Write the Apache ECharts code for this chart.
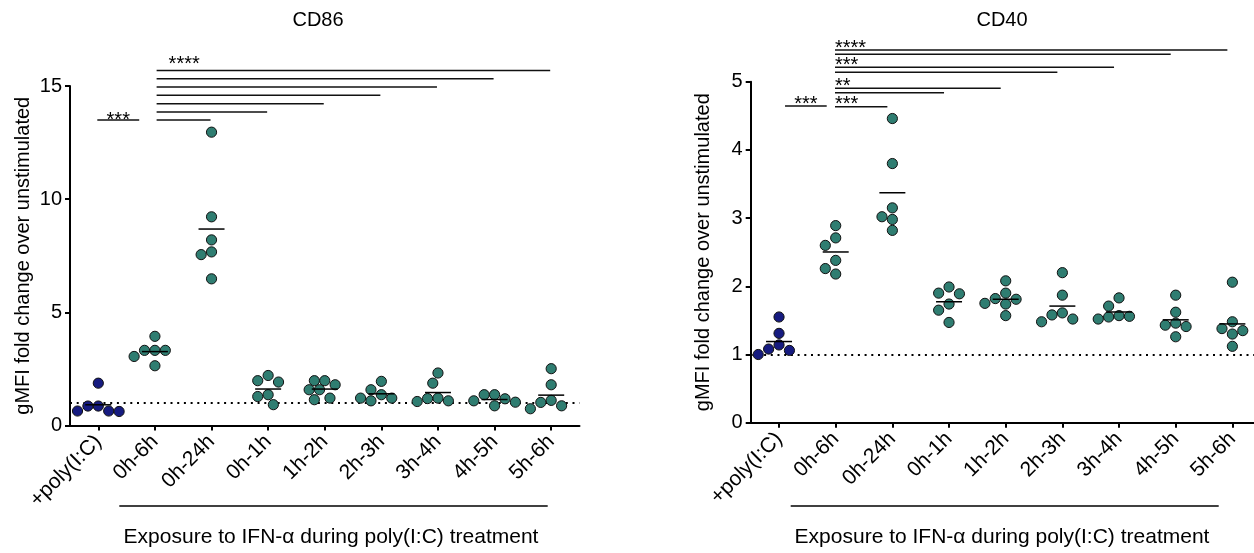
<!DOCTYPE html>
<html><head><meta charset="utf-8">
<script src="https://cdn.jsdelivr.net/npm/echarts@6/dist/echarts.min.js"></script>
<style>html,body{margin:0;padding:0;background:#fff}#c{width:1254px;height:553px}</style>
</head><body><div id="c"></div>
<script>
// ---------------- data ----------------
const categories = ['+poly(I:C)', '0h-6h', '0h-24h', '0h-1h', '1h-2h', '2h-3h', '3h-4h', '4h-5h', '5h-6h'];

const cd86PolyIC = [1.87, 0.86, 0.86, 0.64, 0.64, 0.62];
const cd86_0h6h  = [3.94, 3.32, 3.32, 3.32, 3.05, 2.64];
const cd86_0h24h = [12.96, 9.22, 8.20, 7.67, 7.55, 6.48];
const cd86_0h1h  = [2.21, 1.98, 1.92, 1.36, 1.28, 0.92];
const cd86_1h2h  = [1.98, 1.98, 1.80, 1.58, 1.58, 1.21, 1.14];
const cd86_2h3h  = [1.95, 1.58, 1.36, 1.21, 1.21, 1.09];
const cd86_3h4h  = [2.32, 1.87, 1.21, 1.19, 1.09, 1.06];
const cd86_4h5h  = [1.36, 1.36, 1.18, 1.09, 1.03, 0.87];
const cd86_5h6h  = [2.51, 1.80, 1.11, 1.02, 0.87, 0.74];

const cd40PolyIC = [1.55, 1.31, 1.14, 1.08, 1.06, 1.00];
const cd40_0h6h  = [2.89, 2.71, 2.60, 2.38, 2.26, 2.18];
const cd40_0h24h = [4.46, 3.80, 3.15, 3.02, 2.98, 2.82];
const cd40_0h1h  = [1.99, 1.90, 1.89, 1.74, 1.65, 1.47];
const cd40_1h2h  = [2.08, 1.90, 1.82, 1.81, 1.75, 1.74, 1.57];
const cd40_2h3h  = [2.20, 1.87, 1.61, 1.58, 1.52, 1.48];
const cd40_3h4h  = [1.83, 1.71, 1.57, 1.56, 1.55, 1.52];
const cd40_4h5h  = [1.87, 1.62, 1.46, 1.43, 1.41, 1.26];
const cd40_5h6h  = [2.06, 1.48, 1.38, 1.35, 1.30, 1.12];

const cd86Values = [cd86PolyIC, cd86_0h6h, cd86_0h24h, cd86_0h1h, cd86_1h2h, cd86_2h3h, cd86_3h4h, cd86_4h5h, cd86_5h6h];
const cd40Values = [cd40PolyIC, cd40_0h6h, cd40_0h24h, cd40_0h1h, cd40_1h2h, cd40_2h3h, cd40_3h4h, cd40_4h5h, cd40_5h6h];

const cd86YTicks = [0, 5, 10, 15];
const cd40YTicks = [0, 1, 2, 3, 4, 5];
const baselineValue = 1;

// significance comparisons: [fromCategory, toCategory, stars]
const cd86Comparisons = [[0, 1, '***'], [1, 2, ''], [1, 3, ''], [1, 4, ''], [1, 5, ''], [1, 6, ''], [1, 7, ''], [1, 8, '****']];
const cd40Comparisons = [[0, 1, '***'], [1, 2, '***'], [1, 3, ''], [1, 4, '**'], [1, 5, ''], [1, 6, '***'], [1, 7, ''], [1, 8, '****']];
const cd86BarLevels = [13.50, 13.50, 13.85, 14.22, 14.59, 14.96, 15.32, 15.69];
const cd40BarLevels = [4.644, 4.633, 4.839, 4.904, 5.138, 5.211, 5.402, 5.465];

const yAxisTitle = 'gMFI fold change over unstimulated';
const xAxisTitle = 'Exposure to IFN-\u03b1 during poly(I:C) treatment';

// ---------------- layout / style ----------------
const FONT = 'Arial, "Liberation Sans", Helvetica, sans-serif';
const TEAL = '#2f7d71', NAVY = '#161b80';
const SYM = 10.2;

const panels = [
  { title: 'CD86', values: cd86Values, comps: cd86Comparisons, levels: cd86BarLevels, ticks: cd86YTicks,
    grid: { left: 70, top: 86, width: 509.5, height: 339.5 }, titleX: 318, xTitleX: 331, underline: [119.3, 547.7],
    first: { x1: -1, x2: -15.7, dy: 4 }, bar: { x1: 1.7, x2: -1 }, starDx: 12, starDy: 9.6 },
  { title: 'CD40', values: cd40Values, comps: cd40Comparisons, levels: cd40BarLevels, ticks: cd40YTicks,
    grid: { left: 750.7, top: 81.7, width: 510, height: 341 }, titleX: 1002, xTitleX: 1002, underline: [790.7, 1218.7],
    first: { x1: 6, x2: -9, dy: 6 }, bar: { x1: -0.7, x2: -5 }, starDx: 0, starDy: 6 }
];

function swarmOffsets(vals, pxPerUnit, d) {
  const order = vals.map((_, i) => i).sort((a, b) => vals[b] - vals[a]);
  const placed = [];
  const off = new Array(vals.length).fill(0);
  const s = d / 2;
  for (const i of order) {
    const y = vals[i] * pxPerUnit;
    for (let k = 0; k < 60; k++) {
      const x = k === 0 ? 0 : (k % 2 ? -1 : 1) * Math.ceil(k / 2) * s;
      if (placed.every(p => (p[0] - x) ** 2 + (p[1] - y) ** 2 >= d * d - 0.01)) {
        off[i] = x; placed.push([x, y]); break;
      }
    }
  }
  return off;
}
const mean = a => a.reduce((s, v) => s + v, 0) / a.length;

const grids = [], xAxes = [], yAxes = [], series = [], graphics = [];

panels.forEach((p, pi) => {
  const yMax = p.ticks[p.ticks.length - 1];
  const yInt = p.ticks[1] - p.ticks[0];
  grids.push(Object.assign({ outerBoundsMode: 'none', containLabel: false }, p.grid));
  xAxes.push({
    type: 'category', gridIndex: pi, data: categories, boundaryGap: true,
    axisLine: { show: true, lineStyle: { color: '#000', width: 2 } },
    axisTick: { show: true, alignWithLabel: true, length: 5, lineStyle: { color: '#000', width: 2 } },
    axisLabel: { interval: 0, rotate: 45, margin: 13, color: '#000', fontFamily: FONT, fontSize: 21 },
    splitLine: { show: false }
  });
  yAxes.push({
    type: 'value', gridIndex: pi, min: p.ticks[0], max: yMax, interval: yInt,
    name: yAxisTitle, nameLocation: 'middle', nameGap: 37,
    nameTextStyle: { color: '#000', fontFamily: FONT, fontSize: 20 },
    axisLine: { show: true, lineStyle: { color: '#000', width: 2 } },
    axisTick: { show: true, length: 5, lineStyle: { color: '#000', width: 2 } },
    axisLabel: { margin: 8, color: '#000', fontFamily: FONT, fontSize: 20 },
    splitLine: { show: false }
  });

  const pxPerUnit = p.grid.height / yMax;
  const pts = [];
  p.values.forEach((arr, ci) => {
    const offs = swarmOffsets(arr, pxPerUnit, SYM + 0.2);
    arr.forEach((v, j) => pts.push({
      value: [ci, v], symbolOffset: [offs[j], 0],
      itemStyle: { color: ci === 0 ? NAVY : TEAL }
    }));
  });
  series.push({
    type: 'scatter', xAxisIndex: pi, yAxisIndex: pi, data: pts, symbolSize: SYM, z: 3,
    itemStyle: { borderColor: '#111', borderWidth: 1, opacity: 1 },
    markLine: {
      silent: true, symbol: ['none', 'none'], label: { show: false }, z: 2,
      lineStyle: { color: '#000', width: 2, type: [2, 4.7] },
      data: [{ yAxis: baselineValue }]
    }
  });
  // mean lines
  series.push({
    type: 'custom', xAxisIndex: pi, yAxisIndex: pi, z: 4, clip: false,
    data: p.values.map((arr, ci) => [ci, mean(arr)]),
    renderItem: (params, api) => {
      const c = api.coord([api.value(0), api.value(1)]);
      return { type: 'line', shape: { x1: c[0] - 13, y1: c[1], x2: c[0] + 13, y2: c[1] },
        style: { stroke: '#000', lineWidth: 1.5 } };
    }
  });
  // significance bars
  series.push({
    type: 'custom', xAxisIndex: pi, yAxisIndex: pi, z: 5, clip: false,
    data: p.comps.map((c, k) => [c[0], c[1], p.levels[k]]),
    renderItem: (params, api) => {
      const k = params.dataIndex;
      const a = api.coord([api.value(0), api.value(2)]);
      const b = api.coord([api.value(1), api.value(2)]);
      const st = k === 0 ? p.first : p.bar;
      const x1 = a[0] + st.x1, x2 = b[0] + st.x2, y = a[1];
      const children = [{ type: 'line', shape: { x1, y1: y, x2, y2: y }, style: { stroke: '#111', lineWidth: 1.5 } }];
      const stars = p.comps[k][2];
      if (stars) {
        const isFirst = k === 0;
        const dy = isFirst ? p.first.dy : p.starDy;
        children.push({ type: 'text', x: isFirst ? (x1 + x2) / 2 : x1 + p.starDx, y: y - dy + 4.2,
          style: { text: stars, fill: '#000', font: '20px ' + FONT, align: isFirst ? 'center' : 'left', verticalAlign: 'middle' } });
      }
      return { type: 'group', children };
    }
  });

  graphics.push({ type: 'text', x: p.titleX, y: 20, style: { text: p.title, fill: '#000', font: '20px ' + FONT, align: 'center', textAlign: 'center', verticalAlign: 'middle', textVerticalAlign: 'middle' } });
  graphics.push({ type: 'text', x: p.xTitleX, y: 537, style: { text: xAxisTitle, fill: '#000', font: '21px ' + FONT, align: 'center', textAlign: 'center', verticalAlign: 'middle', textVerticalAlign: 'middle' } });
  graphics.push({ type: 'line', shape: { x1: p.underline[0], y1: 506, x2: p.underline[1], y2: 506 }, style: { stroke: '#000', lineWidth: 1.5 } });
});

const chart = echarts.init(document.getElementById('c'), null, { renderer: 'canvas' });
chart.setOption({
  animation: false, backgroundColor: '#fff',
  grid: grids, xAxis: xAxes, yAxis: yAxes, series, graphic: graphics
});
</script></body></html>
